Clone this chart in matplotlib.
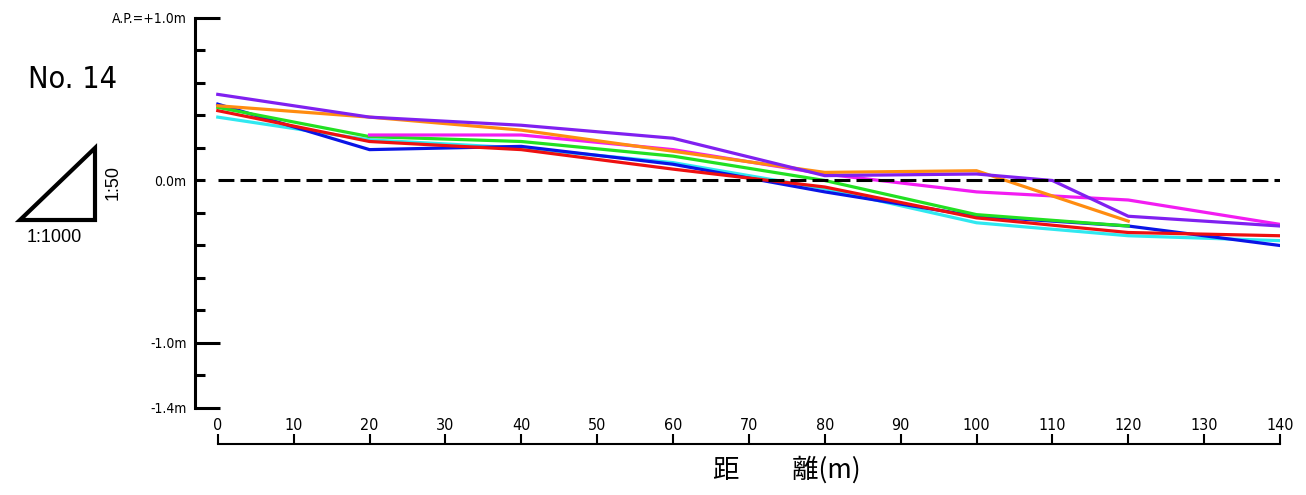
import matplotlib
matplotlib.use('Agg')
import matplotlib.pyplot as plt
from matplotlib.patches import Polygon


# distance (m) and ground level (A.P. m) for each survey line
dist = [0, 20, 40, 60, 80, 100, 120, 140]

purple_x = [0, 20, 40, 60, 80, 100, 110, 120, 140]
purple_y = [0.53, 0.39, 0.34, 0.26, 0.03, 0.04, 0.0, -0.22, -0.28]

orange_x = [0, 20, 40, 60, 80, 100, 120]
orange_y = [0.46, 0.39, 0.31, 0.18, 0.05, 0.06, -0.25]

magenta_x = [20, 40, 60, 80, 100, 120, 140]
magenta_y = [0.28, 0.28, 0.19, 0.04, -0.07, -0.12, -0.27]

green_x = [0, 20, 40, 60, 80, 100, 120]
green_y = [0.45, 0.27, 0.24, 0.15, 0.0, -0.21, -0.28]

blue_y = [0.47, 0.19, 0.21, 0.10, -0.07, -0.22, -0.28, -0.40]
red_y = [0.43, 0.24, 0.19, 0.07, -0.04, -0.23, -0.32, -0.34]
cyan_y = [0.39, 0.25, 0.20, 0.11, -0.05, -0.26, -0.34, -0.37]

xticks = list(range(0, 141, 10))
ymajor = [-1.4, -1.0, 1.0]
ymajor_labels = ['-1.4m', '-1.0m', 'A.P.=+1.0m']
yminor = [-1.2, -0.8, -0.6, -0.4, -0.2, 0.0, 0.2, 0.4, 0.6, 0.8]
yminor_labels = ['', '', '', '', '', '0.0m', '', '', '', '']

W, H = 1306, 495
cond = dict(family='DejaVu Sans', fontstretch='condensed')

fig = plt.figure(figsize=(W / 100, H / 100), dpi=100)
ax = fig.add_axes([195 / W, 1 - 408 / H, (1280 - 195) / W, (408 - 18) / H])

lw = 2.3
ax.plot(dist, cyan_y, color='#30e8f0', lw=lw)
ax.plot(dist, blue_y, color='#0a14e6', lw=lw)
ax.plot(dist, red_y, color='#ee1010', lw=lw)
ax.plot(green_x, green_y, color='#22e022', lw=lw)
ax.plot(magenta_x, magenta_y, color='#f21cf2', lw=lw)
ax.plot(orange_x, orange_y, color='#ff8c10', lw=lw)
ax.plot(purple_x, purple_y, color='#8020f0', lw=lw)
ax.hlines(0, 0, 140, color='black', lw=2.2, linestyles=(0, (5.2, 2)))

ax.set_xlim(-3, 140)
ax.set_ylim(-1.4, 1.0)

for s in ['top', 'right']:
    ax.spines[s].set_visible(False)
ax.spines['left'].set_linewidth(2.2)
ax.spines['left'].set_bounds(-1.4, 1.0)
ax.spines['bottom'].set_linewidth(1.5)
ax.spines['bottom'].set_position(('outward', 26))
ax.spines['bottom'].set_bounds(0, 140)

ax.set_xticks(xticks)
ax.set_xticklabels([str(v) for v in xticks], fontsize=11.5, **cond)
ax.tick_params(axis='x', direction='in', length=7, width=1.5, pad=-19)

ax.set_yticks(ymajor)
ax.set_yticklabels(ymajor_labels, fontsize=10, **cond)
ax.set_yticks(yminor, minor=True)
ax.set_yticklabels(yminor_labels, minor=True, fontsize=10, **cond)
ax.tick_params(axis='y', which='major', direction='in', length=18, width=2.2, pad=6)
ax.tick_params(axis='y', which='minor', direction='in', length=7, width=2.2, pad=6)

fig.text(787 / W, 1 - 470 / H, '距　　離(m)', fontsize=19, ha='center', va='center',
         family=['Noto Sans CJK JP', 'DejaVu Sans'])
fig.text(73 / W, 1 - 80 / H, 'No. 14', fontsize=22, ha='center', va='center', **cond)

tri = Polygon([(20 / W, 1 - 220 / H), (95 / W, 1 - 220 / H), (95 / W, 1 - 148 / H)],
              closed=True, fill=False, lw=3, ec='black', joinstyle='miter',
              transform=fig.transFigure)
fig.add_artist(tri)
fig.text(113 / W, 1 - 183 / H, '1:50', fontsize=13, rotation=90, ha='center', va='center',
         family='Liberation Sans')
fig.text(54 / W, 1 - 238 / H, '1:1000', fontsize=13, ha='center', va='center',
         family='Liberation Sans')

fig.savefig('out.png', dpi=100)
